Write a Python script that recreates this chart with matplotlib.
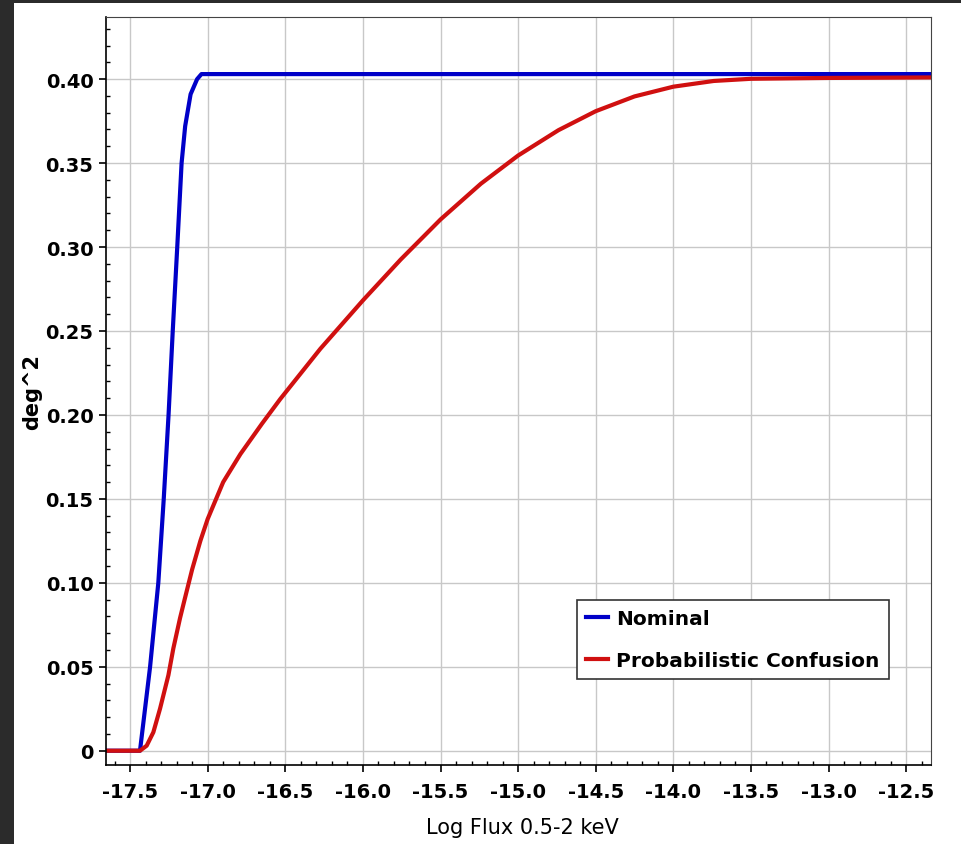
import matplotlib
matplotlib.use("Agg")
import matplotlib.pyplot as plt
from matplotlib.patches import Rectangle
from matplotlib.ticker import MultipleLocator, FuncFormatter

# values
nominal_x = [-17.66, -17.436, -17.371, -17.318, -17.283, -17.252, -17.225, -17.196,
             -17.168, -17.145, -17.11, -17.068, -17.04, -12.34]
nominal_y = [0, 0, 0.05, 0.10, 0.15, 0.20, 0.25, 0.30,
             0.35, 0.372, 0.391, 0.400, 0.403, 0.403]

confusion_x = [-17.66, -17.436, -17.393, -17.35, -17.307, -17.253, -17.221, -17.178,
               -17.146, -17.1, -17.047, -17.0, -16.9, -16.789, -16.65, -16.532,
               -16.274, -16.0, -15.757, -15.5, -15.24, -15.0, -14.74, -14.5,
               -14.25, -14.0, -13.74, -13.5, -13.0, -12.34]
confusion_y = [0, 0, 0.003, 0.011, 0.025, 0.045, 0.061, 0.079,
               0.091, 0.108, 0.125, 0.138, 0.160, 0.1767, 0.1948, 0.2095,
               0.2394, 0.2682, 0.2925, 0.3164, 0.3377, 0.3545, 0.3696, 0.3809,
               0.3897, 0.3955, 0.3989, 0.4002, 0.4007, 0.401]

xlabel = "Log Flux 0.5-2 keV"
ylabel = "deg^2"
series_names = ["Nominal", "Probabilistic Confusion"]

W, H = 961, 845
fig = plt.figure(figsize=(W / 100, H / 100), dpi=100)
fig.patch.set_facecolor("white")
# dark frame on the left and top edges
dark = "#2b2b2b"
fig.patches.append(Rectangle((0, 0), 14 / W, 1, transform=fig.transFigure,
                             facecolor=dark, edgecolor="none", zorder=-5))
fig.patches.append(Rectangle((0, 1 - 4 / H), 1, 4 / H, transform=fig.transFigure,
                             facecolor=dark, edgecolor="none", zorder=-5))

ax = fig.add_axes([106 / W, 1 - 766 / H, (931 - 106) / W, (766 - 18) / H])

ax.plot(nominal_x, nominal_y, color="#0000c8", lw=3, label=series_names[0],
        solid_joinstyle="round")
ax.plot(confusion_x, confusion_y, color="#d01010", lw=3, label=series_names[1],
        solid_joinstyle="round")

ax.set_xlim(-17.655, -12.34)
ax.set_ylim(-0.0085, 0.437)

ax.xaxis.set_major_locator(MultipleLocator(0.5))
ax.xaxis.set_minor_locator(MultipleLocator(0.1))
ax.yaxis.set_major_locator(MultipleLocator(0.05))
ax.yaxis.set_minor_locator(MultipleLocator(0.01))
ax.xaxis.set_major_formatter(FuncFormatter(lambda v, p: f"{v:.1f}"))
ax.yaxis.set_major_formatter(FuncFormatter(lambda v, p: "0" if abs(v) < 1e-9 else f"{v:.2f}"))

ax.grid(True, which="major", color="#c8c8c8", lw=1)
ax.set_axisbelow(True)

ax.tick_params(which="major", direction="out", length=5, width=1.2,
               labelsize=14, pad=4)
ax.tick_params(axis="x", which="major", pad=7)
ax.tick_params(which="minor", direction="in", length=3, width=1)
for lab in ax.get_xticklabels() + ax.get_yticklabels():
    lab.set_fontweight("bold")

for side in ["top", "right"]:
    ax.spines[side].set_color("#444444")
for side in ["left", "bottom"]:
    ax.spines[side].set_color("black")
    ax.spines[side].set_linewidth(1.2)

ax.set_xlabel(xlabel, fontsize=15)
ax.xaxis.set_label_coords(0.505, -0.07)
ax.set_ylabel(ylabel, fontsize=15, fontweight="bold")
ax.yaxis.set_label_coords(-0.077, 0.5)

leg = ax.legend(loc="lower left", bbox_to_anchor=(0.571, 0.115), borderaxespad=0,
                fancybox=False, framealpha=1, edgecolor="#333333",
                handlelength=1.1, handletextpad=0.4,
                labelspacing=1.15, borderpad=0.45,
                prop={"size": 14.5, "weight": "bold"})
leg.get_frame().set_linewidth(1.2)

fig.savefig("out.png", dpi=100, facecolor=fig.get_facecolor())
